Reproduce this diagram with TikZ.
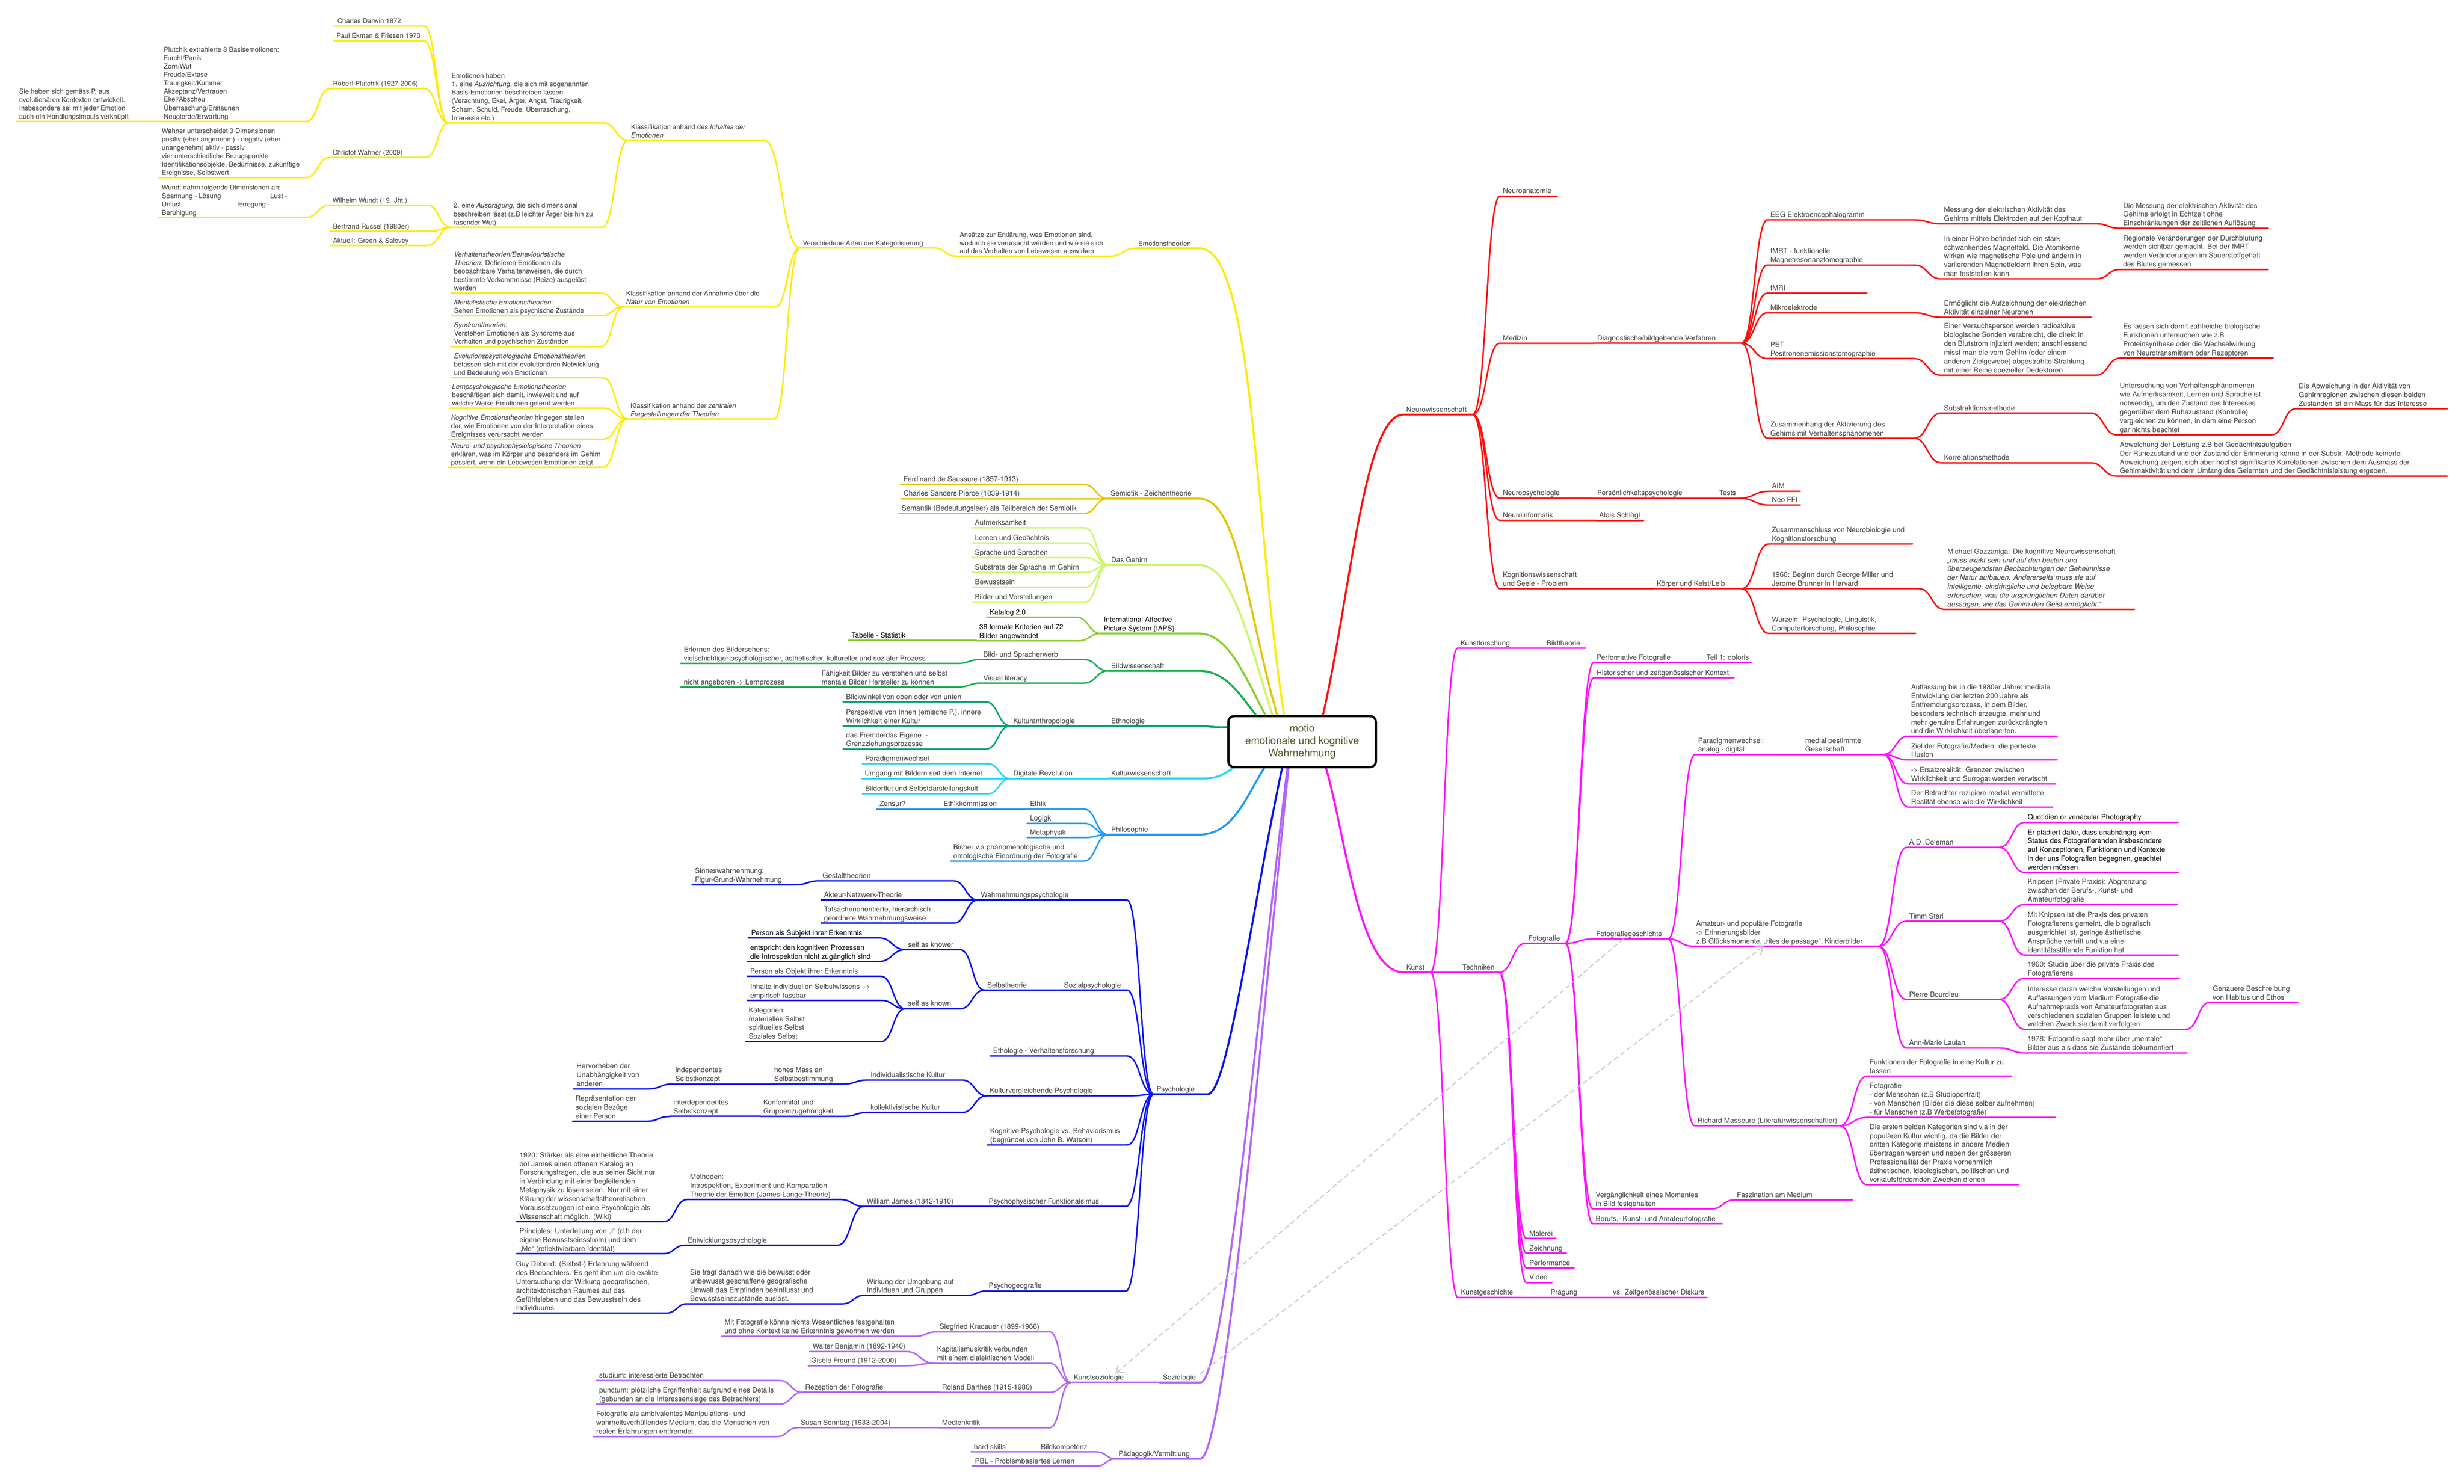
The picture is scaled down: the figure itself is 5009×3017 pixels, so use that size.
\documentclass[tikz,border=0pt]{standalone}
\usepackage{fontspec}
\setmainfont{TeX Gyre Heros}
\usetikzlibrary{calc,arrows.meta}
\pgfdeclarelayer{bg}
\pgfdeclarelayer{paper}
\pgfsetlayers{paper,bg,main}
\definecolor{txt}{HTML}{3C3C3C}
\definecolor{rootc}{HTML}{4F5A2A}
\definecolor{cY}{HTML}{FFEA00}
\definecolor{cSem}{HTML}{E6C300}
\definecolor{cGeh}{HTML}{CCF56B}
\definecolor{cIap}{HTML}{8CCC33}
\definecolor{cBld}{HTML}{1AAF50}
\definecolor{cEth}{HTML}{00A37A}
\definecolor{cKul}{HTML}{22D8F5}
\definecolor{cPhi}{HTML}{1E9BF5}
\definecolor{cPsy}{HTML}{0A14F0}
\definecolor{cSoz}{HTML}{B266F5}
\definecolor{cRed}{HTML}{FF1010}
\definecolor{cMag}{HTML}{FF10FF}
\newcommand\mmfont{\fontsize{14.5}{17.9}\selectfont}
\newcommand\mmfontS{\fontsize{13.8}{17}\selectfont}
\newcommand\rootfont{\fontsize{21}{25}\selectfont}
\newcommand\tx[2]{\makebox[#1pt][l]{\begin{tabular}[b]{@{\hspace{6pt}}l@{}}#2\end{tabular}}}
\newcommand\mmR[3]{\foreach \kid in {#3}{\draw[#1] (#2.south east) to[mm] (\kid.south west) -- (\kid.south east);}}
\newcommand\mmL[3]{\foreach \kid in {#3}{\draw[#1] (#2.south west) to[mm] (\kid.south east) -- (\kid.south west);}}
\tikzset{
  mm/.style={to path={let \p1=(\tikztostart), \p2=(\tikztotarget), \n1={0.5*(\x2-\x1)}, \n2={-0.5*(\x2-\x1)} in .. controls +(\n1,0) and +(\n2,0) .. (\tikztotarget)}},
  tp/.style={anchor=south west, inner sep=0pt, outer sep=0pt, font=\mmfont, text=txt},
  tpy/.style={tp, font=\mmfontS},
  cn/.style={line width=3pt, line cap=round, line join=round},
  bY/.style={cn, draw=cY}, bSem/.style={cn, draw=cSem}, bGeh/.style={cn, draw=cGeh},
  bIap/.style={cn, draw=cIap}, bBld/.style={cn, draw=cBld}, bEth/.style={cn, draw=cEth},
  bKul/.style={cn, draw=cKul}, bPhi/.style={cn, draw=cPhi}, bPsy/.style={cn, draw=cPsy},
  bSoz/.style={cn, draw=cSoz}, bRed/.style={cn, draw=cRed}, bMag/.style={cn, draw=cMag},
  rc/.style={line width=4pt},
  dsh/.style={draw=black!22, line width=2pt, dash pattern=on 10pt off 6pt, -{Straight Barb[length=14pt,width=20pt]}},
}
\begin{document}
\begin{tikzpicture}[x=1pt,y=-1pt]
\begin{pgfonlayer}{paper}
\fill[white] (0,0) rectangle (5009,3017);
\end{pgfonlayer}
\useasboundingbox (0,0) rectangle (5009,3017);
% ---------- root
\node[draw=black, line width=4.5pt, rounded corners=12pt, fill=white, minimum width=300pt, minimum height=104pt, align=center, font=\rootfont, text=rootc, inner sep=4pt] (root) at (2647,1508) {motio\\emotionale und kognitive\\Wahrnehmung};
% ---------- yellow: Emotionstheorien
\node[tpy] (emo) at (2308,505) {\tx{131}{Emotionstheorien}};
\node[tpy] (ans) at (1945,521) {\tx{312}{Ansätze zur Erklärung, was Emotionen sind,\\wodurch sie verursacht werden und wie sie sich\\auf das Verhalten von Lebewesen auswirken}};
\node[tpy] (ver) at (1626,504) {\tx{271}{Verschiedene Arten der Kategorisierung}};
\node[tpy] (kinh) at (1277,285) {\tx{276}{Klassifikation anhand des \textit{Inhaltes der}\\\textit{Emotionen}}};
\node[tpy] (eh) at (912,250) {\tx{315}{Emotionen haben\\1. eine \textit{Ausrichtung}, die sich mit sogenannten\\Basis-Emotionen beschreiben lassen\\(Verachtung, Ekel, Ärger, Angst, Traurigkeit,\\Scham, Schuld, Freude, Überraschung,\\Interesse etc.)}};
\node[tpy] (aus) at (916,462) {\tx{308}{2. eine \textit{Ausprägung,} die sich dimensional\\beschreiben lässt (z.B leichter Ärger bis hin zu\\rasender Wut)}};
\node[tpy] (dar) at (680,53) {\tx{182}{Charles Darwin 1872}};
\node[tpy] (ekm) at (678,83) {\tx{184}{Paul Ekman \& Friesen 1970}};
\node[tpy] (plu) at (671,180) {\tx{191}{Robert Plutchik (1927-2006)}};
\node[tpy] (plx) at (327,247) {\tx{295}{Plutchik extrahierte 8 Basisemotionen:\\Furcht/Panik\\Zorn/Wut\\Freude/Extase\\Traurigkeit/Kummer\\Akzeptanz/Vertrauen\\Ekel/Abscheu\\Überraschung/Erstaunen\\Neugierde/Erwartung}};
\node[tpy] (evo) at (33,247) {\tx{294}{Sie haben sich gemäss P. aus\\evolutionären Kontexten entwickelt.\\Insbesondere sei mit jeder Emotion\\auch ein Handlungsimpuls verknüpft}};
\node[tpy] (wah) at (670,320) {\tx{196}{Christof Wahner (2009)}};
\node[tpy] (wax) at (323,361) {\tx{299}{Wahner unterscheidet 3 Dimensionen\\positiv (eher angenehm) - negativ (eher\\unangenehm) aktiv - passiv\\vier unterschiedliche Bezugspunkte:\\Identifikationsobjekte, Bedürfnisse, zukünftige\\Ereignisse, Selbstwert}};
\node[tpy] (wun) at (670,417) {\tx{199}{Wilhelm Wundt (19. Jht.)}};
\node[tpy] (wux) at (323,442) {\tx{299}{Wundt nahm folgende Dimensionen an:\\Spannung - Lösung\hspace{100pt}Lust -\\Unlust\hspace{116pt}Erregung -\\Beruhigung}};
\node[tpy] (rus) at (671,470) {\tx{205}{Bertrand Russel (1980er)}};
\node[tpy] (gre) at (671,499) {\tx{198}{Aktuell: Green \& Salovey}};
\node[tpy] (knat) at (1267,624) {\tx{309}{Klassifikation anhand der Annahme über die\\\textit{Natur von Emotionen}}};
\node[tpy] (vht) at (917,596) {\tx{305}{\textit{Verhaltenstheorien/Behaviouristische}\\\textit{Theorien}: Definieren Emotionen als\\beobachtbare Verhaltensweisen, die durch\\bestimmte Vorkommnisse (Reize) ausgelöst\\werden}};
\node[tpy] (men) at (917,642) {\tx{305}{\textit{Mentalistische Emotionstheorien}:\\Sehen Emotionen als psychische Zustände}};
\node[tpy] (syn) at (917,705) {\tx{305}{\textit{Syndromtheorien}:\\Verstehen Emotionen als Syndrome aus\\Verhalten und psychischen Zuständen}};
\node[tpy] (kzen) at (1276,852) {\tx{298}{Klassifikation anhand der \textit{zentralen}\\\textit{Fragestellungen der Theorien}}};
\node[tpy] (evp) at (917,768) {\tx{309}{\textit{Evolutionspsychologische Emotionstheorien}\\befassen sich mit der evolutionären Netwicklung\\und Bedeutung von Emotionen}};
\node[tpy] (lnp) at (913,830) {\tx{313}{\textit{Lernpsychologische Emotionstheorien}\\beschäftigen sich damit, inwieweit und auf\\welche Weise Emotionen gelernt werden}};
\node[tpy] (kog) at (911,893) {\tx{315}{\textit{Kognitive Emotionstheorien} hingegen stellen\\dar, wie Emotionen von der Interpretation eines\\Ereignisses verursacht werden}};
\node[tpy] (neu) at (911,950) {\tx{315}{\textit{Neuro- und psychophysiologische Theorien}\\erklären, was im Körper und besonders im Gehirn\\passiert, wenn ein Lebewesen Emotionen zeigt}};
% ---------- Semiotik
\node[tp] (sem) at (2252,1014) {\tx{186}{Semiotik - Zeichentheorie}};
\node[tp] (sau) at (1831,985) {\tx{372}{Ferdinand de Saussure (1857-1913)}};
\node[tp] (pie) at (1831,1014) {\tx{372}{Charles Sanders Pierce (1839-1914)}};
\node[tp] (sman) at (1827,1044) {\tx{376}{Semantik (Bedeutungsleer) als Teilbereich der Semiotik}};
% ---------- Das Gehirn
\node[tp] (geh) at (2253,1149) {\tx{184}{Das Gehirn}};
\node[tp] (g1) at (1976,1073) {\tx{230}{Aufmerksamkeit}};
\node[tp] (g2) at (1976,1104) {\tx{230}{Lernen und Gedächtnis}};
\node[tp] (g3) at (1976,1134) {\tx{230}{Sprache und Sprechen}};
\node[tp] (g4) at (1976,1164) {\tx{230}{Substrate der Sprache im Gehirn}};
\node[tp] (g5) at (1976,1194) {\tx{230}{Bewusstsein}};
\node[tp] (g6) at (1976,1224) {\tx{230}{Bilder und Vorstellungen}};
% ---------- IAPS
\node[tp, text=black] (iaps) at (2238,1288) {\tx{199}{International Affective\\Picture System (IAPS)}};
\node[tp, text=black] (kat) at (2006,1255) {\tx{182}{Katalog 2.0}};
\node[tp, text=black] (k36) at (1985,1303) {\tx{207}{36 formale Kriterien auf 72\\Bilder angewendet}};
\node[tp, text=black] (tab) at (1725,1302) {\tx{260}{Tabelle - Statistik}};
% ---------- Bildwissenschaft
\node[tp] (bw) at (2253,1364) {\tx{184}{Bildwissenschaft}};
\node[tp] (bsp) at (1993,1341) {\tx{210}{Bild- und Spracherwerb}};
\node[tp] (erl) at (1384,1349) {\tx{563}{Erlernen des Bildersehens:\\vielschichtiger psychologischer, ästhetischer, kultureller und sozialer Prozess}};
\node[tp] (vl) at (1993,1389) {\tx{210}{Visual literacy}};
\node[tp] (fae) at (1664,1397) {\tx{283}{Fähigkeit Bilder zu verstehen und selbst\\mentale Bilder Hersteller zu können}};
\node[tp] (nang) at (1384,1397) {\tx{280}{nicht angeboren -> Lernprozess}};
% ---------- Ethnologie
\node[tp] (eth) at (2253,1476) {\tx{184}{Ethnologie}};
\node[tp] (kan) at (2054,1476) {\tx{199}{Kulturanthropologie}};
\node[tp] (blk) at (1714,1427) {\tx{290}{Blickwinkel von oben oder von unten}};
\node[tp] (per) at (1714,1476) {\tx{290}{Perspektive von Innen (emische P.), innere\\Wirklichkeit einer Kultur}};
\node[tp] (fre) at (1714,1523) {\tx{290}{das Fremde/das Eigene\ \ -\\Grenzziehungsprozesse}};
% ---------- Kulturwissenschaft
\node[tp] (kw) at (2253,1583) {\tx{184}{Kulturwissenschaft}};
\node[tp] (dr) at (2054,1583) {\tx{199}{Digitale Revolution}};
\node[tp] (pw) at (1753,1553) {\tx{255}{Paradigmenwechsel}};
\node[tp] (umg) at (1752,1583) {\tx{256}{Umgang mit Bildern seit dem Internet}};
\node[tp] (bfl) at (1753,1614) {\tx{255}{Bilderflut und Selbstdarstellungskult}};
% ---------- Philosophie
\node[tp] (phi) at (2253,1697) {\tx{184}{Philosophie}};
\node[tp] (eti) at (2088,1645) {\tx{115}{Ethik}};
\node[tp] (ekom) at (1912,1645) {\tx{176}{Ethikkommission}};
\node[tp] (zen) at (1782,1645) {\tx{130}{Zensur?}};
\node[tp] (log) at (2088,1674) {\tx{115}{Logigk}};
\node[tp] (met) at (2088,1703) {\tx{115}{Metaphysik}};
\node[tp] (bis) at (1932,1751) {\tx{271}{Bisher v.a phänomenologische und\\ontologische Einordnung der Fotografie}};
% ---------- Psychologie
\node[tp] (psy) at (2345,2225) {\tx{110}{Psychologie}};
\node[tp] (wp) at (1988,1830) {\tx{303}{Wahrnehmungspsychologie}};
\node[tp] (gst) at (1666,1791) {\tx{272}{Gestalttheorien}};
\node[tp] (sin) at (1407,1799) {\tx{210}{Sinneswahrnehmung:\\Figur-Grund-Wahrnehmung}};
\node[tp] (ant) at (1669,1830) {\tx{270}{Akteur-Netzwerk-Theorie}};
\node[tp] (tat) at (1669,1877) {\tx{270}{Tatsachenorientierte, hierarchisch\\geordnete Wahrnehmungsweise}};
\node[tp] (sp) at (2157,2013) {\tx{134}{Sozialpsychologie}};
\node[tp] (st) at (2001,2013) {\tx{156}{Selbstheorie}};
\node[tp] (sak) at (1840,1931) {\tx{112}{self as knower}};
\node[tp, text=black] (pas) at (1521,1907) {\tx{266}{Person als Subjekt ihrer Erkenntnis}};
\node[tp, text=black] (ent) at (1519,1955) {\tx{268}{entspricht den kognitiven Prozessen\\die Introspektion nicht zugänglich sind}};
\node[tp] (skn) at (1840,2051) {\tx{112}{self as known}};
\node[tp] (pao) at (1519,1985) {\tx{272}{Person als Objekt ihrer Erkenntnis}};
\node[tp] (inh) at (1519,2034) {\tx{272}{Inhalte individuellen Selbstwissens\ \ ->\\empirisch fassbar}};
\node[tp] (kats) at (1516,2118) {\tx{275}{Kategorien:\\materielles Selbst\\spirituelles Selbst\\Soziales Selbst}};
\node[tp] (etv) at (2013,2147) {\tx{278}{Ethologie - Verhaltensforschung}};
\node[tp] (kvp) at (2006,2228) {\tx{294}{Kulturvergleichende Psychologie}};
\node[tp] (ink) at (1764,2196) {\tx{192}{Individualistische Kultur}};
\node[tp] (hma) at (1568,2204) {\tx{147}{hohes Mass an\\Selbstbestimmung}};
\node[tp] (ind) at (1367,2204) {\tx{201}{independentes\\Selbstkonzept}};
\node[tp] (her) at (1166,2214) {\tx{152}{Hervorheben der\\Unabhängigkeit von\\anderen}};
\node[tp] (kok) at (1764,2262) {\tx{192}{kollektivistische Kultur}};
\node[tp] (kon) at (1546,2270) {\tx{169}{Konformität und\\Gruppenzugehörigkeit}};
\node[tp] (inter) at (1363,2270) {\tx{183}{interdependentes\\Selbstkonzept}};
\node[tp] (rep) at (1164,2280) {\tx{149}{Repräsentation der\\sozialen Bezüge\\einer Person}};
\node[tp] (kps) at (2007,2328) {\tx{284}{Kognitive Psychologie vs. Behaviorismus\\(begründet von John B. Watson)}};
\node[tp] (pfu) at (2004,2453) {\tx{285}{Psychophysischer Funktionalsimus}};
\node[tp] (wj) at (1756,2453) {\tx{248}{William James (1842-1910)}};
\node[tp] (mth) at (1397,2439) {\tx{311}{Methoden:\\Introspektion, Experiment und Komparation\\Theorie der Emotion (James-Lange-Theorie)}};
\node[tp] (j1920) at (1050,2484) {\tx{299}{1920: Stärker als eine einheitliche Theorie\\bot James einen offenen Katalog an\\Forschungsfragen, die aus seiner Sicht nur\\in Verbindung mit einer begleitenden\\Metaphysik zu lösen seien. Nur mit einer\\Klärung der wissenschaftstheoretischen\\Voraussetzungen ist eine Psychologie als\\Wissenschaft möglich. (Wiki)}};
\node[tp] (ewp) at (1392,2532) {\tx{311}{Entwicklungspsychologie}};
\node[tp] (pri) at (1050,2549) {\tx{299}{Principles: Unterteilung von „I“ (d.h der\\eigene Bewusstseinsstrom) und dem\\„Me“ (reflektivierbare Identität)}};
\node[tp] (pgeo) at (2004,2625) {\tx{285}{Psychogeografie}};
\node[tp] (wdu) at (1756,2634) {\tx{210}{Wirkung der Umgebung auf\\Individuen und Gruppen}};
\node[tp] (sfr) at (1397,2651) {\tx{316}{Sie fragt danach wie die bewusst oder\\unbewusst geschaffene geografische\\Umwelt das Empfinden beeinflusst und\\Bewusstseinszustände auslöst.}};
\node[tp] (guy) at (1043,2670) {\tx{311}{Guy Debord: (Selbst-) Erfahrung während\\des Beobachters. Es geht ihm um die exakte\\Untersuchung der Wirkung geografischen,\\architektonischen Raumes auf das\\Gefühlsleben und das Bewusstsein des\\Individuums}};
% ---------- Soziologie
\node[tp] (soz) at (2358,2811) {\tx{82}{Soziologie}};
\node[tp] (kso) at (2177,2811) {\tx{181}{Kunstsoziologie}};
\node[tp] (skr) at (1904,2708) {\tx{230}{Siegfried Kracauer (1899-1966)}};
\node[tp] (mit) at (1467,2717) {\tx{394}{Mit Fotografie könne nichts Wesentliches festgehalten\\und ohne Kontext keine Erkenntnis gewonnen werden}};
\node[tp] (kap) at (1899,2772) {\tx{235}{Kapitalismuskritik verbunden\\mit einem dialektischen Modell}};
\node[tp] (wbe) at (1646,2748) {\tx{196}{Walter Benjamin (1892-1940)}};
\node[tp] (gfr) at (1643,2777) {\tx{199}{Gisèle Freund (1912-2000)}};
\node[tp] (rba) at (1909,2831) {\tx{225}{Roland Barthes (1915-1980)}};
\node[tp] (rez) at (1631,2831) {\tx{278}{Rezeption der Fotografie}};
\node[tp] (stu) at (1212,2807) {\tx{373}{studium: interessierte Betrachten}};
\node[tp] (pun) at (1212,2855) {\tx{373}{punctum: plötzliche Ergriffenheit aufgrund eines Details\\(gebunden an die Interessenslage des Betrachters)}};
\node[tp] (mkr) at (1909,2903) {\tx{225}{Medienkritik}};
\node[tp] (sso) at (1622,2903) {\tx{287}{Susan Sonntag (1933-2004)}};
\node[tp] (fam) at (1206,2921) {\tx{373}{Fotografie als ambivalentes Manipulations- und\\wahrheitsverhüllendes Medium, das die Menschen von\\realen Erfahrungen entfremdet}};
\node[tp] (pae) at (2268,2966) {\tx{172}{Pädagogik/Vermittlung}};
\node[tp] (bko) at (2110,2952) {\tx{119}{Bildkompetenz}};
\node[tp] (hsk) at (1974,2952) {\tx{136}{hard skills}};
\node[tp] (pbl) at (1976,2981) {\tx{253}{PBL - Problembasiertes Lernen}};
% ---------- Neurowissenschaft (red)
\node[tp] (nw) at (2853,843) {\tx{141}{Neurowissenschaft}};
\node[tp] (nan) at (3049,399) {\tx{116}{Neuroanatomie}};
\node[tp] (med) at (3049,698) {\tx{192}{Medizin}};
\node[tp] (dia) at (3241,698) {\tx{299}{Diagnostische/bildgebende Verfahren}};
\node[tp] (eeg) at (3593,447) {\tx{298}{EEG Elektroencephalogramm}};
\node[tp] (fmrt) at (3593,539) {\tx{298}{fMRT - funktionelle\\Magnetresonanztomographie}};
\node[tp] (fmri) at (3593,596) {\tx{202}{fMRI}};
\node[tp] (mik) at (3593,636) {\tx{298}{Mikroelektrode}};
\node[tp] (pet) at (3593,729) {\tx{298}{PET\\Positronenemissionstomographie}};
\node[tp] (zus) at (3593,891) {\tx{298}{Zusammenhang der Aktivierung des\\Gehirns mit Verhaltensphänomenen}};
\node[tp] (mes) at (3946,455) {\tx{315}{Messung der elektrischen Aktivität des\\Gehirns mittels Elektroden auf der Kopfhaut}};
\node[tp] (dme) at (4310,464) {\tx{301}{Die Messung der elektrischen Aktivität des\\Gehirns erfolgt in Echtzeit ohne\\Einschränkungen der zeitlichen Auflösung}};
\node[tp] (roe) at (3946,567) {\tx{315}{In einer Röhre befindet sich ein stark\\schwankendes Magnetfeld. Die Atomkerne\\wirken wie magnetische Pole und ändern in\\variierenden Magnetfeldern ihren Spin, was\\man feststellen kann.}};
\node[tp] (reg) at (4310,548) {\tx{301}{Regionale Veränderungen der Durchblutung\\werden sichtbar gemacht. Bei der fMRT\\werden Veränderungen im Sauerstoffgehalt\\des Blutes gemessen}};
\node[tp] (erm) at (3946,645) {\tx{306}{Ermöglicht die Aufzeichnung der elektrischen\\Aktivität einzelner Neuronen}};
\node[tp] (vps) at (3946,763) {\tx{315}{Einer Versuchsperson werden radioaktive\\biologische Sonden verabreicht, die direkt in\\den Blutstrom injiziert werden; anschliessend\\misst man die vom Gehirn (oder einem\\anderen Zielgewebe) abgestrahlte Strahlung\\mit einer Reihe spezieller Dedektoren}};
\node[tp] (ela) at (4310,728) {\tx{311}{Es lassen sich damit zahlreiche biologische\\Funktionen untersuchen wie z.B\\Proteinsynthese oder die Wechselwirkung\\von Neurotransmittern oder Rezeptoren}};
\node[tp] (sub) at (3946,840) {\tx{304}{Substraktionsmethode}};
\node[tp] (unt) at (4303,884) {\tx{315}{Untersuchung von Verhaltensphänomenen\\wie Aufmerksamkeit, Lernen und Sprache ist\\notwendig, um den Zustand des Interesses\\gegenüber dem Ruhezustand (Kontrolle)\\vergleichen zu können, in dem eine Person\\gar nichts beachtet}};
\node[tp] (abw) at (4667,831) {\tx{308}{Die Abweichung in der Aktivität von\\Gehirnregionen zwischen diesen beiden\\Zuständen ist ein Mass für das Interesse}};
\node[tp] (kor) at (3946,941) {\tx{304}{Korrelationsmethode}};
\node[tp] (abl) at (4303,968) {\tx{672}{Abweichung der Leistung z.B bei Gedächtnisaufgaben\\Der Ruhezustand und der Zustand der Erinnerung könne in der Substr. Methode keinerlei\\Abweichung zeigen, sich aber höchst signifikante Korrelationen zwischen dem Ausmass der\\Gehirnaktivität und dem Umfang des Gelernten und der Gedächtnisleistung ergeben.}};
\node[tp] (np) at (3049,1013) {\tx{192}{Neuropsychologie}};
\node[tp] (pkp) at (3241,1013) {\tx{248}{Persönlichkeitspsychologie}};
\node[tp] (tst) at (3489,1013) {\tx{47}{Tests}};
\node[tp] (aim) at (3596,999) {\tx{64}{AIM}};
\node[tp] (neo) at (3596,1027) {\tx{64}{Neo FFI}};
\node[tp] (ni) at (3049,1058) {\tx{196}{Neuroinformatik}};
\node[tp] (alo) at (3245,1058) {\tx{96}{Alois Schlögl}};
\node[tp] (kw2) at (3049,1197) {\tx{313}{Kognitionswissenschaft\\und Seele - Problem}};
\node[tp] (kkl) at (3362,1197) {\tx{178}{Körper und Keist/Leib}};
\node[tp] (zsn) at (3596,1106) {\tx{292}{Zusammenschluss von Neurobiologie und\\Kognitionsforschung}};
\node[tp] (b60) at (3596,1197) {\tx{305}{1960: Beginn durch George Miller und\\Jerome Brunner in Harvard}};
\node[tp] (gaz) at (3953,1239) {\tx{386}{Michael Gazzaniga: Die kognitive Neurowissenschaft\\\textit{„muss exakt sein und auf den besten und}\\\textit{überzeugendsten Beobachtungen der Geheimnisse}\\\textit{der Natur aufbauen. Andererseits muss sie auf}\\\textit{intelligente, eindringliche und belegbare Weise}\\\textit{erforschen, was die ursprünglichen Daten darüber}\\\textit{aussagen, wie das Gehirn den Geist ermöglicht.“}}};
\node[tp] (wur) at (3596,1288) {\tx{298}{Wurzeln: Psychologie, Linguistik,\\Computerforschung, Philosophie}};
% ---------- Kunst (magenta)
\node[tp] (kun) at (2853,1977) {\tx{55}{Kunst}};
\node[tp] (kfo) at (2963,1318) {\tx{175}{Kunstforschung}};
\node[tp] (bth) at (3138,1318) {\tx{85}{Bildtheorie}};
\node[tp] (tec) at (2908,1977) {\tx{140}{\hspace{59pt}Techniken}};
\node[tp] (fot) at (3101,1918) {\tx{81}{Fotografie}};
\node[tp] (pfo) at (3240,1347) {\tx{163}{Performative Fotografie}};
\node[tp] (tdo) at (3403,1347) {\tx{157}{\hspace{60pt}Teil 1: doloris}};
\node[tp] (hik) at (3240,1378) {\tx{285}{Historischer und zeitgenössischer Kontext}};
\node[tp] (fgs) at (3239,1909) {\tx{152}{Fotografiegeschichte}};
\node[tp] (par) at (3446,1534) {\tx{156}{Paradigmenwechsel:\\analog - digital}};
\node[tp] (mbg) at (3602,1534) {\tx{226}{\hspace{62pt}medial bestimmte\\\hspace{62pt}Gesellschaft}};
\node[tp] (auf) at (3879,1497) {\tx{303}{Auffassung bis in die 1980er Jahre: mediale\\Entwicklung der letzten 200 Jahre als\\Entfremdungsprozess, in dem Bilder,\\besonders technisch erzeugte, mehr und\\mehr genuine Erfahrungen zurückdrängten\\und die Wirklichkeit überlagerten.}};
\node[tp] (zie) at (3879,1545) {\tx{303}{Ziel der Fotografie/Medien: die perfekte\\Illusion}};
\node[tp] (ers) at (3879,1594) {\tx{300}{-> Ersatzrealität: Grenzen zwischen\\Wirklichkeit und Surrogat werden verwischt}};
\node[tp] (dbe) at (3879,1641) {\tx{294}{Der Betrachter rezipiere medial vermittelte\\Realität ebenso wie die Wirklichkeit}};
\node[tp] (ama) at (3442,1924) {\tx{377}{Amateur- und populäre Fotografie\\-> Erinnerungsbilder\\z.B Glücksmomente, „rites de passage“, Kinderbilder}};
\node[tp] (adc) at (3875,1723) {\tx{189}{A.D .Coleman}};
\node[tp, text=black] (quo) at (4116,1672) {\tx{312}{Quotidien or venacular Photography}};
\node[tp, text=black] (erp) at (4116,1774) {\tx{312}{Er plädiert dafür, dass unabhängig vom\\Status des Fotografierenden insbesondere\\auf Konzeptionen, Funktionen und Kontexte\\in der uns Fotografien begegnen, geachtet\\werden müssen}};
\node[tp] (tsl) at (3875,1873) {\tx{189}{Timm Starl}};
\node[tp] (kni) at (4116,1839) {\tx{310}{Knipsen (Private Praxis): Abgrenzung\\zwischen der Berufs-, Kunst- und\\Amateurfotografie}};
\node[tp] (mkn) at (4116,1942) {\tx{312}{Mit Knipsen ist die Praxis des privaten\\Fotografierens gemeint, die biografisch\\ausgerichtet ist, geringe ästhetische\\Ansprüche vertritt und v.a eine\\identitätsstiftende Funktion hat}};
\node[tp] (pbo) at (3875,2032) {\tx{189}{Pierre Bourdieu}};
\node[tp] (s60) at (4116,1989) {\tx{314}{1960: Studie über die private Praxis des\\Fotografierens}};
\node[tp] (ida) at (4116,2093) {\tx{328}{Interesse daran welche Vorstellungen und\\Auffassungen vom Medium Fotografie die\\Aufnahmepraxis von Amateurfotografen aus\\verschiedenen sozialen Gruppen leistete und\\welchen Zweck sie damit verfolgten}};
\node[tp] (gen) at (4492,2038) {\tx{179}{Genauere Beschreibung\\von Habitus und Ethos}};
\node[tp] (aml) at (3875,2131) {\tx{189}{Ann-Marie Laulan}};
\node[tp] (f78) at (4116,2141) {\tx{330}{1978: Fotografie sagt mehr über „mentale“\\Bilder aus als dass sie Zustände dokumentiert}};
\node[tp] (rma) at (3445,2289) {\tx{296}{Richard Masseure (Literaturwissenschaftler)}};
\node[tp] (fku) at (3795,2188) {\tx{294}{Funktionen der Fotografie in eine Kultur zu\\fassen}};
\node[tp] (fme) at (3795,2272) {\tx{383}{Fotografie\\- der Menschen (z.B Studioportrait)\\- von Menschen (Bilder die diese selber aufnehmen)\\- für Menschen (z.B Werbefotografie)}};
\node[tp] (dek) at (3795,2409) {\tx{308}{Die ersten beiden Kategorien sind v.a in der\\populären Kultur wichtig, da die Bilder der\\dritten Kategorie meistens in andere Medien\\übertragen werden und neben der grösseren\\Professionalität der Praxis vornehmlich\\ästhetischen, ideologischen, politischen und\\verkaufsfördernden Zwecken dienen}};
\node[tp] (vgm) at (3238,2458) {\tx{242}{Vergänglichkeit eines Momentes\\in Bild festgehalten}};
\node[tp] (fas) at (3525,2440) {\tx{241}{Faszination am Medium}};
\node[tp] (bka) at (3238,2488) {\tx{263}{Berufs,- Kunst- und Amateurfotografie}};
\node[tp] (mal) at (3103,2518) {\tx{60}{Malerei}};
\node[tp] (zei) at (3103,2548) {\tx{81}{Zeichnung}};
\node[tp] (pfm) at (3103,2578) {\tx{97}{Performance}};
\node[tp] (vid) at (3103,2608) {\tx{52}{Video}};
\node[tp] (kge) at (2964,2638) {\tx{122}{Kunstgeschichte}};
\node[tp] (prg) at (3086,2638) {\tx{128}{\hspace{60pt}Prägung}};
\node[tp] (vsz) at (3214,2638) {\tx{256}{\hspace{59pt}vs. Zeitgenössischer Diskurs}};
% ================= connectors
\begin{pgfonlayer}{bg}
% root connectors
\draw[bRed,rc] (root.52) .. controls +(56,-244) and +(-80,0) .. (nw.south west) -- (nw.south east);
\draw[bMag,rc] (root.312) .. controls +(41,144) and +(-90,0) .. (kun.south west) -- (kun.south east);
\draw[bY,rc] (root.124) .. controls +(-59,-375) and +(110,0) .. (emo.south east) -- (emo.south west);
\draw[bSem,rc] (root.133) .. controls +(-61,-211) and +(80,0) .. (sem.south east) -- (sem.south west);
\draw[bGeh,rc] (root.138) .. controls +(-46,-143) and +(70,0) .. (geh.south east) -- (geh.south west);
\draw[bIap,rc] (root.144) .. controls +(-42,-79) and +(60,0) .. (iaps.south east) -- (iaps.south west);
\draw[bBld,rc] (root.150) .. controls +(-34,-43) and +(55,0) .. (bw.south east) -- (bw.south west);
\draw[bEth,rc] (root.169) .. controls +(-25,2) and +(25,0) .. (eth.south east) -- (eth.south west);
\draw[bKul,rc] (root.201) .. controls +(-25,17) and +(35,0) .. (kw.south east) -- (kw.south west);
\draw[bPhi,rc] (root.215) .. controls +(-37,59) and +(70,0) .. (phi.south east) -- (phi.south west);
\draw[bPsy,rc] (root.233) .. controls +(-62,293) and +(40,0) .. (psy.south east) -- (psy.south west);
\draw[bSoz,rc] (root.241) .. controls +(-55,447) and +(50,0) .. (soz.south east) -- (soz.south west);
\draw[bSoz,rc] (root.243) .. controls +(-52,497) and +(50,0) .. (pae.south east) -- (pae.south west);
% yellow
\mmL{bY}{emo}{ans}
\mmL{bY}{ans}{ver}
\mmL{bY}{ver}{kinh,knat,kzen}
\mmL{bY}{kinh}{eh,aus}
\mmL{bY}{eh}{dar,ekm,plu,wah}
\mmL{bY}{plu}{plx}
\mmL{bY}{plx}{evo}
\mmL{bY}{wah}{wax}
\mmL{bY}{aus}{wun,rus,gre}
\mmL{bY}{wun}{wux}
\mmL{bY}{knat}{vht,men,syn}
\mmL{bY}{kzen}{evp,lnp,kog,neu}
% semiotik etc
\mmL{bSem}{sem}{sau,pie,sman}
\mmL{bGeh}{geh}{g1,g2,g3,g4,g5,g6}
\mmL{bIap}{iaps}{kat,k36}
\mmL{bIap}{k36}{tab}
\mmL{bBld}{bw}{bsp,vl}
\mmL{bBld}{bsp}{erl}
\mmL{bBld}{vl}{fae}
\mmL{bBld}{fae}{nang}
\mmL{bEth}{eth}{kan}
\mmL{bEth}{kan}{blk,per,fre}
\mmL{bKul}{kw}{dr}
\mmL{bKul}{dr}{pw,umg,bfl}
\mmL{bPhi}{phi}{eti,log,met,bis}
\mmL{bPhi}{eti}{ekom}
\mmL{bPhi}{ekom}{zen}
% psychologie
\mmL{bPsy}{psy}{wp,sp,etv,kvp,kps,pfu,pgeo}
\mmL{bPsy}{wp}{gst,ant,tat}
\mmL{bPsy}{gst}{sin}
\mmL{bPsy}{sp}{st}
\mmL{bPsy}{st}{sak,skn}
\mmL{bPsy}{sak}{pas,ent}
\mmL{bPsy}{skn}{pao,inh,kats}
\mmL{bPsy}{kvp}{ink,kok}
\mmL{bPsy}{ink}{hma}
\mmL{bPsy}{hma}{ind}
\mmL{bPsy}{ind}{her}
\mmL{bPsy}{kok}{kon}
\mmL{bPsy}{kon}{inter}
\mmL{bPsy}{inter}{rep}
\mmL{bPsy}{pfu}{wj}
\mmL{bPsy}{wj}{mth,ewp}
\mmL{bPsy}{mth}{j1920}
\mmL{bPsy}{ewp}{pri}
\mmL{bPsy}{pgeo}{wdu}
\mmL{bPsy}{wdu}{sfr}
\mmL{bPsy}{sfr}{guy}
% soziologie
\mmL{bSoz}{soz}{kso}
\mmL{bSoz}{kso}{skr,kap,rba,mkr}
\mmL{bSoz}{skr}{mit}
\mmL{bSoz}{kap}{wbe,gfr}
\mmL{bSoz}{rba}{rez}
\mmL{bSoz}{rez}{stu,pun}
\mmL{bSoz}{mkr}{sso}
\mmL{bSoz}{sso}{fam}
\mmL{bSoz}{pae}{bko,pbl}
\mmL{bSoz}{bko}{hsk}
% red
\mmR{bRed}{nw}{nan,med,np,ni,kw2}
\mmR{bRed}{med}{dia}
\mmR{bRed}{dia}{eeg,fmrt,fmri,mik,pet,zus}
\mmR{bRed}{eeg}{mes}
\mmR{bRed}{mes}{dme}
\mmR{bRed}{fmrt}{roe}
\mmR{bRed}{roe}{reg}
\mmR{bRed}{mik}{erm}
\mmR{bRed}{pet}{vps}
\mmR{bRed}{vps}{ela}
\mmR{bRed}{zus}{sub,kor}
\mmR{bRed}{sub}{unt}
\mmR{bRed}{unt}{abw}
\mmR{bRed}{kor}{abl}
\mmR{bRed}{np}{pkp}
\mmR{bRed}{pkp}{tst}
\mmR{bRed}{tst}{aim,neo}
\mmR{bRed}{ni}{alo}
\mmR{bRed}{kw2}{kkl}
\mmR{bRed}{kkl}{zsn,b60,wur}
\mmR{bRed}{b60}{gaz}
% magenta
\mmR{bMag}{kun}{kfo,tec,kge}
\mmR{bMag}{kfo}{bth}
\mmR{bMag}{kge}{prg}
\mmR{bMag}{prg}{vsz}
\mmR{bMag}{tec}{fot,mal,zei,pfm,vid}
\mmR{bMag}{fot}{pfo,hik,fgs,vgm,bka}
\mmR{bMag}{pfo}{tdo}
\mmR{bMag}{vgm}{fas}
\mmR{bMag}{fgs}{par,ama,rma}
\mmR{bMag}{par}{mbg}
\mmR{bMag}{mbg}{auf,zie,ers,dbe}
\mmR{bMag}{ama}{adc,tsl,pbo,aml}
\mmR{bMag}{adc}{quo,erp}
\mmR{bMag}{tsl}{kni,mkn}
\mmR{bMag}{pbo}{s60,ida}
\mmR{bMag}{ida}{gen}
\mmR{bMag}{aml}{f78}
\mmR{bMag}{rma}{fku,fme,dek}
% dashed cross links
\draw[dsh] ($(fgs.south west)!0.4!(fgs.south east)$) -- (kso.north);
\draw[dsh] (soz.north east) -- ($(ama.south west)!0.38!(ama.south east)$);
\end{pgfonlayer}
\end{tikzpicture}
\end{document}
